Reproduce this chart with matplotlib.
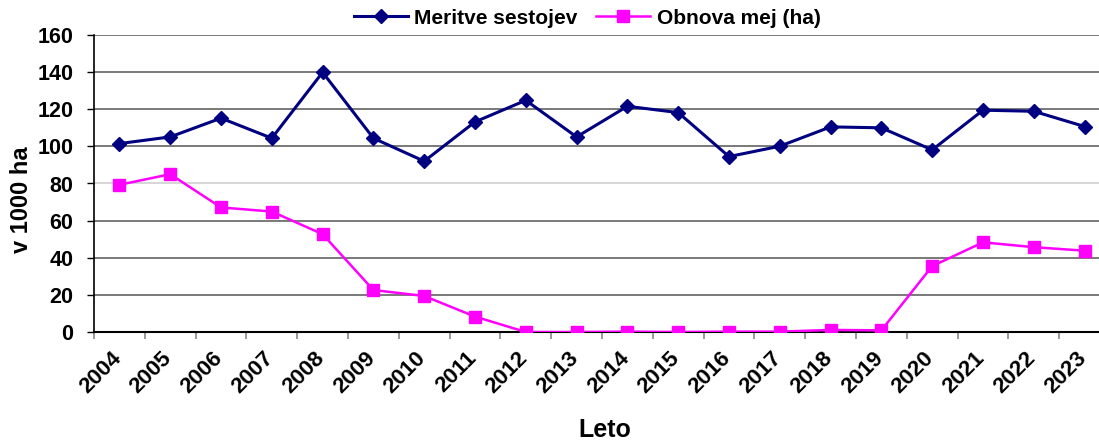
import matplotlib
matplotlib.use("Agg")
import matplotlib.pyplot as plt
import matplotlib.transforms as mtransforms
import numpy as np

plt.rcParams['font.family'] = ['Liberation Sans', 'DejaVu Sans']
plt.rcParams['font.weight'] = 'bold'

# data
years = [str(y) for y in range(2004, 2024)]
meritve = [101.5, 105.1, 115.2, 104.4, 139.9, 104.4, 92.0, 113.2, 124.8, 105.1,
           121.6, 118.2, 94.5, 100.1, 110.5, 110.0, 98.1, 119.5, 118.9, 110.7]
obnova = [79.3, 85.0, 67.1, 64.9, 52.7, 22.6, 19.4, 8.3, 0.0, 0.0,
          0.2, 0.0, 0.2, 0.2, 1.1, 0.9, 35.5, 48.3, 45.7, 43.8]
y_ticks = [0, 20, 40, 60, 80, 100, 120, 140, 160]

W, H = 1099, 440
fig = plt.figure(figsize=(W / 100, H / 100), dpi=100)
# plot area runs past the right edge, as in the reference
ax = fig.add_axes([94 / W, (H - 332) / H, (1110 - 94) / W, (332 - 35) / H])

x = np.arange(len(years))
ax.plot(x, meritve, color='#000080', lw=2.2, marker='D', ms=7.5,
        label='Meritve sestojev', zorder=3)
ax.plot(x, obnova, color='#FF00FF', lw=1.8, marker='s', ms=8.5,
        label='Obnova mej (ha)', zorder=3)

ax.set_xlim(-0.5, len(years) - 0.5)
ax.set_ylim(0, 160)
ax.set_yticks(y_ticks)
ax.set_yticklabels([str(v) for v in y_ticks], fontsize=15.5, fontweight='bold')

# gridlines (the 80 line is paler in the reference)
for v in y_ticks[1:]:
    ax.axhline(v, color='#cccccc' if v == 80 else '#555555', lw=1.1, zorder=1)

# category boundary ticks on x
ax.set_xticks(np.arange(-0.5, len(years), 1.0))
ax.set_xticklabels([])
ax.tick_params(axis='x', which='major', direction='out', length=5, color='#888888', width=1.2)
ax.set_xticks(x, minor=True)
ax.set_xticklabels(years, minor=True, rotation=45, ha='right', va='top',
                   fontsize=16, fontweight='bold')
ax.tick_params(axis='x', which='minor', length=0, pad=11)
offset = mtransforms.ScaledTranslation(6 / 100, 0, fig.dpi_scale_trans)
for lab in ax.get_xticklabels(minor=True):
    lab.set_transform(lab.get_transform() + offset)

ax.tick_params(axis='y', direction='out', length=5, width=1, pad=10)

for s in ['top', 'right']:
    ax.spines[s].set_visible(False)
ax.spines['left'].set_linewidth(1.2)
ax.spines['bottom'].set_linewidth(1.5)

ax.set_ylabel('v 1000 ha', fontsize=17, fontweight='bold')
ax.yaxis.set_label_coords(-0.071, 0.445)
ax.set_xlabel('Leto', fontsize=18, fontweight='bold')
ax.xaxis.set_label_coords(0.503, -0.33)
ax.xaxis.label.set_va('center')
ax.yaxis.label.set_va('center')

fig.legend(loc='center', bbox_to_anchor=(587 / W, 1 - 18 / H), ncol=2,
           frameon=False, prop={'size': 15, 'weight': 'bold'},
           handlelength=2.6, columnspacing=0.9, handletextpad=0.3,
           borderaxespad=0)

fig.savefig('out.png', dpi=100)
